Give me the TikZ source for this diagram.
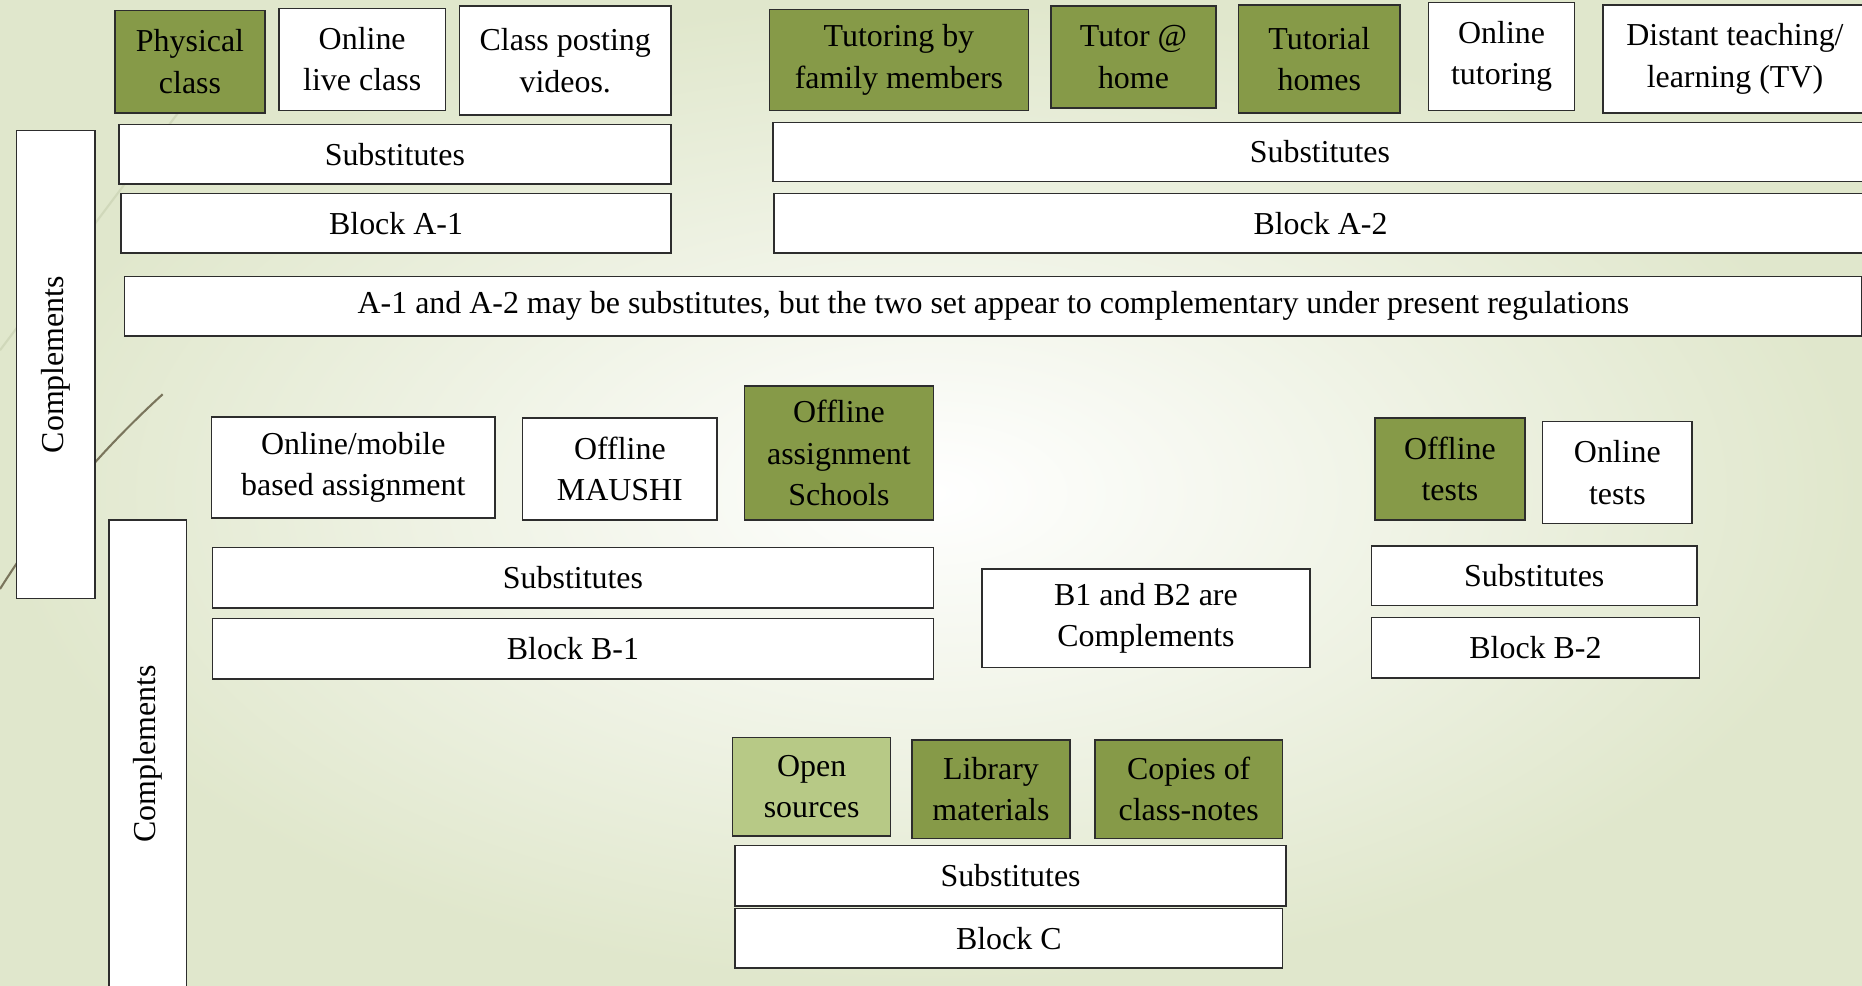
\documentclass[tikz,border=0pt]{standalone}
\usepackage{fontspec}
\setmainfont{Liberation Serif}
\usetikzlibrary{positioning}

\definecolor{olivefill}{RGB}{134,154,72}
\definecolor{olivelight}{RGB}{183,201,134}
\definecolor{bggreen}{RGB}{224,231,204}
\definecolor{frame}{RGB}{45,45,45}
\definecolor{wispdark}{RGB}{122,117,92}
\definecolor{wisplight}{RGB}{208,216,186}

\begin{document}
\begin{tikzpicture}[
  item/.style={draw=frame, line width=0.75pt, fill=white, align=center,
    inner sep=0pt, font=\fontsize{15.3}{19.8}\selectfont},
  filled/.style={item, fill=olivefill},
  pale/.style={item, fill=olivelight},
  band/.style={item, minimum height=1.0cm},
  side/.style={item, rotate=90, minimum width=7.88cm},
]

\useasboundingbox (0,0) rectangle (31.36,16.6);

% === Background ===
\shade[inner color=white, outer color=bggreen] (0,0) rectangle (31.36,16.6);
\draw[wisplight, line width=1pt] (0,10.70) -- (3.3,15.1);
\draw[wispdark, line width=1pt] (0,6.68) .. controls (0.9,8.10) and (1.8,9.10) .. (2.74,9.96);

% === Block A-1 (top left) ===
\node[filled, minimum width=2.52cm, minimum height=1.72cm] (phys) at (3.20, 15.56)
  {Physical\\class};
\node[item, minimum width=2.80cm, minimum height=1.72cm] (onlive) at (6.10, 15.60)
  {Online\\live class};
\node[item, minimum width=3.56cm, minimum height=1.84cm] (posting) at (9.52, 15.58)
  {Class posting\\videos.};
\node[band, minimum width=9.30cm] (subA1) at (6.65, 14.00) {Substitutes};
\node[band, minimum width=9.26cm] (blockA1) at (6.67, 12.84) {Block A-1};

% === Block A-2 (top right) ===
\node[filled, minimum width=4.36cm, minimum height=1.70cm] (family) at (15.14, 15.59)
  {Tutoring by\\family members};
\node[filled, minimum width=2.78cm, minimum height=1.72cm] (tutor) at (19.09, 15.64)
  {Tutor @\\home};
\node[filled, minimum width=2.72cm, minimum height=1.82cm] (homes) at (22.22, 15.61)
  {Tutorial\\homes};
\node[item, minimum width=2.46cm, minimum height=1.82cm] (ontut) at (25.29, 15.65)
  {Online\\tutoring};
\node[item, minimum width=4.44cm, minimum height=1.82cm] (distant) at (29.22, 15.61)
  {Distant teaching/\\learning (TV)};
\node[band, minimum width=18.42cm] (subA2) at (22.23, 14.04) {Substitutes};
\node[band, minimum width=18.40cm] (blockA2) at (22.24, 12.84) {Block A-2};

\node[band, minimum width=29.26cm] (noteA) at (16.73, 11.44)
  {A-1 and A-2 may be substitutes, but the two set appear to complementary under present regulations};

% === Side bars ===
\node[side, minimum height=1.32cm] (compA) at (0.94, 10.46) {Complements};
\node[side, minimum height=1.30cm] (compB) at (2.49, 3.90) {Complements};

% === Block B-1 ===
\node[item, minimum width=4.78cm, minimum height=1.70cm] (mobile) at (5.95, 8.73)
  {Online/mobile\\based assignment};
\node[item, minimum width=3.28cm, minimum height=1.72cm] (maushi) at (10.44, 8.70)
  {Offline\\MAUSHI};
\node[filled, minimum width=3.18cm, minimum height=2.26cm] (schools) at (14.13, 8.97)
  {Offline\\assignment\\Schools};
\node[band, minimum width=12.14cm, minimum height=1.02cm] (subB1) at (9.65, 6.87) {Substitutes};
\node[band, minimum width=12.14cm, minimum height=1.02cm] (blockB1) at (9.65, 5.67) {Block B-1};

\node[item, minimum width=5.52cm, minimum height=1.66cm] (b1b2) at (19.30, 6.19)
  {B1 and B2 are\\Complements};

% === Block B-2 ===
\node[filled, minimum width=2.52cm, minimum height=1.72cm] (offtests) at (24.42, 8.70)
  {Offline\\tests};
\node[item, minimum width=2.52cm, minimum height=1.72cm] (ontests) at (27.24, 8.64)
  {Online\\tests};
\node[band, minimum width=5.48cm] (subB2) at (25.84, 6.90) {Substitutes};
\node[band, minimum width=5.52cm, minimum height=1.02cm] (blockB2) at (25.86, 5.69) {Block B-2};

% === Block C ===
\node[pale, minimum width=2.66cm, minimum height=1.66cm] (open) at (13.67, 3.35)
  {Open\\sources};
\node[filled, minimum width=2.66cm, minimum height=1.66cm] (library) at (16.69, 3.31)
  {Library\\materials};
\node[filled, minimum width=3.16cm, minimum height=1.66cm] (copies) at (20.02, 3.31)
  {Copies of\\class-notes};
\node[band, minimum width=9.28cm, minimum height=1.02cm] (subC) at (17.02, 1.85) {Substitutes};
\node[band, minimum width=9.22cm] (blockC) at (16.99, 0.80) {Block C};

\end{tikzpicture}
\end{document}
